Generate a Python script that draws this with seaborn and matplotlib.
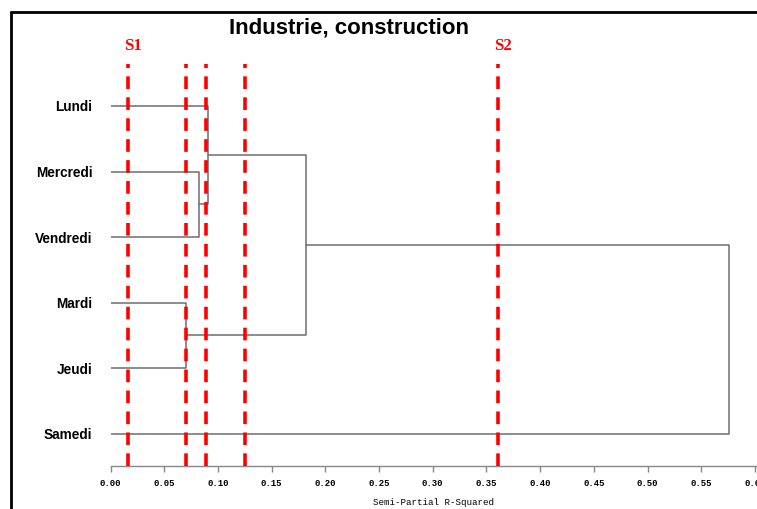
import numpy as np
import pandas as pd
import seaborn as sns
import matplotlib.pyplot as plt
from matplotlib.lines import Line2D

# Feuilles du dendrogramme (ordre d'affichage de haut en bas)
leaves = ['Lundi', 'Mercredi', 'Vendredi', 'Mardi', 'Jeudi', 'Samedi']

# Fusions : noeuds 0-5 = feuilles, 6+ = clusters créés dans l'ordre
merge_left = [3, 1, 0, 8, 9]
merge_right = [4, 2, 7, 6, 5]
merge_height = [0.0703, 0.0826, 0.0908, 0.182, 0.576]

# Seuils de coupure
cut_heights = [0.0165, 0.0706, 0.089, 0.125, 0.361]
cut_labels = ['S1', '', '', '', 'S2']

x_ticks = [0.00, 0.05, 0.10, 0.15, 0.20, 0.25, 0.30, 0.35, 0.40, 0.45, 0.50, 0.55, 0.60]

sns.set_style('white')
plt.rcParams['font.family'] = ['Liberation Sans', 'DejaVu Sans']
plt.rcParams['text.color'] = 'black'
plt.rcParams['xtick.labelcolor'] = 'black'
plt.rcParams['ytick.labelcolor'] = 'black'
plt.rcParams['axes.labelcolor'] = 'black'

# position (y, hauteur) de chaque noeud
node_y = {i: float(i) for i in range(len(leaves))}
node_h = {i: 0.0 for i in range(len(leaves))}
rows = []
seg = 0
for k, (a, b, h) in enumerate(zip(merge_left, merge_right, merge_height)):
    nid = len(leaves) + k
    ya, yb = node_y[a], node_y[b]
    xs = [node_h[a], h, h, node_h[b]]
    ys = [ya, ya, yb, yb]
    for x, y in zip(xs, ys):
        rows.append({'seg': seg, 'x': x, 'y': y})
    seg += 1
    node_y[nid] = (ya + yb) / 2
    node_h[nid] = h
seg_df = pd.DataFrame(rows)

fig = plt.figure(figsize=(7.57, 5.09), dpi=100)
ax = fig.add_axes([110.5 / 757, 1 - 466 / 509, 1 - 110.5 / 757, 402 / 509])

sns.lineplot(data=seg_df, x='x', y='y', units='seg', estimator=None, sort=False,
             color='#6e6e6e', linewidth=1.1, ax=ax)

for h, lab in zip(cut_heights, cut_labels):
    ax.axvline(h, color='#ff0000', linewidth=2.6, linestyle=(0, (3.5, 2.3)), zorder=5)
    if lab:
        ax.text(h + 0.0045, 1.045, lab, transform=ax.get_xaxis_transform(),
                ha='center', va='center', color='#ff0000', fontsize=12,
                fontweight='bold', family=['Liberation Serif', 'DejaVu Serif'])

ax.set_xlim(0, (757 - 110.5) / 1074)
ax.set_ylim(5.49, -0.64)
ax.set_yticks(range(len(leaves)))
ax.set_yticklabels(leaves, fontweight='bold', fontsize=9.8)
ax.tick_params(axis='y', length=0, pad=13)

ax.set_xticks(x_ticks)
ax.set_xticklabels([f'{t:.2f}' for t in x_ticks], family=['Liberation Mono', 'DejaVu Sans Mono'],
                   fontweight='bold', fontsize=6.5)
ax.tick_params(axis='x', direction='out', length=4, width=1, color='#888888', pad=5,
               bottom=True)
ax.set_xlabel('Semi-Partial R-Squared', family=['Liberation Mono', 'DejaVu Sans Mono'],
              fontsize=6.6, labelpad=7.5)
ax.set_ylabel('')

for s in ['left', 'right', 'top']:
    ax.spines[s].set_visible(False)
ax.spines['bottom'].set_color('#888888')
ax.spines['bottom'].set_linewidth(1)

fig.text(349 / 757, 1 - 28 / 509, 'Industrie, construction', ha='center', va='center',
         fontsize=16, fontweight='bold', color='black')

# cadre partiel noir
fx, fy = 11 / 757, 1 - 12 / 509
fig.add_artist(Line2D([fx, fx], [0, fy], color='black', linewidth=2, transform=fig.transFigure))
fig.add_artist(Line2D([fx, 1], [fy, fy], color='black', linewidth=2, transform=fig.transFigure))

fig.savefig('out.png', dpi=100)
